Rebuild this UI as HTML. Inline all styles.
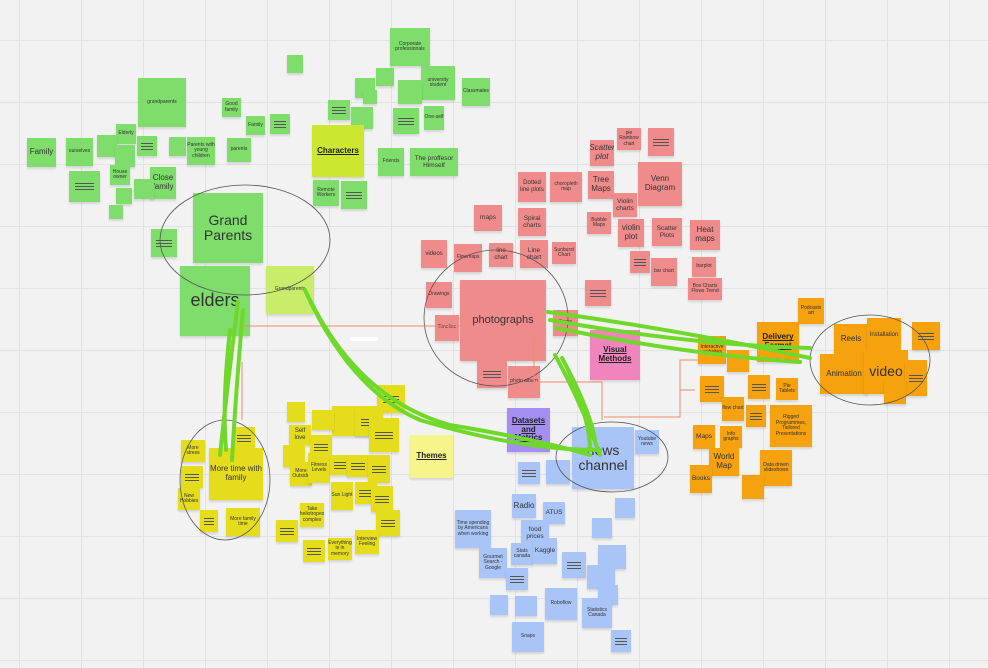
<!DOCTYPE html>
<html><head><meta charset="utf-8"><style>
body{margin:0;width:988px;height:668px;overflow:hidden;background:#f2f2f2;font-family:"Liberation Sans",sans-serif;position:relative;
background-image:linear-gradient(#e2e2e2 1px,transparent 1px),linear-gradient(90deg,#e2e2e2 1px,transparent 1px);background-size:62px 62px;background-position:19px 40px}
.s{position:absolute;display:flex;align-items:center;justify-content:center;text-align:center;font-size:5px;color:#333;box-shadow:0 2px 2px rgba(0,0,0,.12);line-height:1.1;overflow:hidden}
.g{background:#7edd6b}.r{background:#f08b8b}.y{background:#e5dd1c}.b{background:#a9c4f7}.o{background:#f6a10e}
.l::after{content:"";display:block;width:60%;height:1px;background:#555;box-shadow:0 -3px 0 #555,0 3px 0 #555}
.m{font-size:8px}.big{font-size:14px}.h{font-weight:bold;text-decoration:underline;font-size:8px;color:#222}
svg{position:absolute;left:0;top:0}
</style></head><body>
<div class="s g" style="left:390px;top:28px;width:40px;height:38px">Corporate professionals</div>
<div class="s g" style="left:287px;top:55px;width:16px;height:18px"></div>
<div class="s g" style="left:376px;top:68px;width:18px;height:18px"></div>
<div class="s g" style="left:355px;top:78px;width:20px;height:20px"></div>
<div class="s g" style="left:363px;top:90px;width:14px;height:14px"></div>
<div class="s g" style="left:421px;top:66px;width:34px;height:34px">university student</div>
<div class="s g" style="left:398px;top:80px;width:24px;height:24px"></div>
<div class="s g" style="left:462px;top:78px;width:28px;height:28px">Classmates</div>
<div class="s g l" style="left:328px;top:100px;width:22px;height:20px"></div>
<div class="s g" style="left:325px;top:126px;width:22px;height:22px"></div>
<div class="s g" style="left:351px;top:107px;width:22px;height:22px"></div>
<div class="s g l" style="left:393px;top:108px;width:26px;height:26px"></div>
<div class="s g" style="left:424px;top:106px;width:20px;height:24px">One-self</div>
<div class="s g l" style="left:270px;top:114px;width:20px;height:20px"></div>
<div class="s g" style="left:246px;top:116px;width:19px;height:19px">Family</div>
<div class="s g" style="left:222px;top:98px;width:19px;height:19px">Good family</div>
<div class="s g" style="left:138px;top:78px;width:48px;height:49px">grandparents</div>
<div class="s g" style="left:116px;top:124px;width:20px;height:20px">Elderly</div>
<div class="s g l" style="left:137px;top:136px;width:20px;height:20px"></div>
<div class="s g" style="left:169px;top:137px;width:17px;height:19px"></div>
<div class="s g" style="left:187px;top:137px;width:28px;height:28px">Parents with young children</div>
<div class="s g" style="left:227px;top:138px;width:24px;height:24px">parents</div>
<div class="s g m" style="left:27px;top:138px;width:29px;height:29px">Family</div>
<div class="s g" style="left:66px;top:138px;width:27px;height:28px">ourselves</div>
<div class="s g" style="left:97px;top:135px;width:20px;height:22px"></div>
<div class="s g" style="left:115px;top:145px;width:20px;height:22px"></div>
<div class="s g" style="left:110px;top:165px;width:20px;height:20px">House owner</div>
<div class="s g m" style="left:150px;top:167px;width:26px;height:32px">Close family</div>
<div class="s g" style="left:134px;top:179px;width:20px;height:20px"></div>
<div class="s g l" style="left:69px;top:171px;width:31px;height:31px"></div>
<div class="s g" style="left:116px;top:188px;width:16px;height:16px"></div>
<div class="s g" style="left:109px;top:205px;width:14px;height:14px"></div>
<div class="s g l" style="left:151px;top:229px;width:26px;height:28px"></div>
<div class="s h" style="left:312px;top:125px;width:52px;height:52px;background:#cde72e">Characters</div>
<div class="s g" style="left:313px;top:180px;width:26px;height:26px">Remote Workers</div>
<div class="s g l" style="left:341px;top:181px;width:26px;height:28px"></div>
<div class="s g" style="left:378px;top:148px;width:26px;height:28px">Friends</div>
<div class="s g" style="left:410px;top:148px;width:48px;height:28px;font-size:6.5px">The proffesor Himself</div>
<div class="s g big" style="left:193px;top:193px;width:70px;height:70px">Grand Parents</div>
<div class="s g" style="left:180px;top:266px;width:70px;height:70px;font-size:18px">elders</div>
<div class="s" style="left:266px;top:266px;width:48px;height:48px;background:#c9ec6a">Grandparents</div>
<div class="s r" style="left:617px;top:128px;width:24px;height:22px">pie Rainbow chart</div>
<div class="s r l" style="left:648px;top:128px;width:26px;height:28px"></div>
<div class="s r m" style="left:590px;top:140px;width:24px;height:26px;font-style:italic">Scatter plot</div>
<div class="s r m" style="left:638px;top:162px;width:44px;height:44px">Venn Diagram</div>
<div class="s r m" style="left:588px;top:171px;width:26px;height:28px">Tree Maps</div>
<div class="s r" style="left:518px;top:172px;width:28px;height:30px;font-size:6px">Dotted line plots</div>
<div class="s r" style="left:550px;top:172px;width:32px;height:30px">choropleth map</div>
<div class="s r" style="left:613px;top:193px;width:24px;height:24px;font-size:6.5px">Violin charts</div>
<div class="s r" style="left:474px;top:205px;width:28px;height:26px;font-size:6.5px">maps</div>
<div class="s r" style="left:518px;top:208px;width:28px;height:28px;font-size:6.5px">Spiral charts</div>
<div class="s r" style="left:587px;top:212px;width:24px;height:22px">Bubble Maps</div>
<div class="s r m" style="left:618px;top:219px;width:26px;height:28px">violin plot</div>
<div class="s r" style="left:652px;top:218px;width:30px;height:28px;font-size:6.5px">Scatter Plots</div>
<div class="s r m" style="left:690px;top:220px;width:30px;height:30px">Heat maps</div>
<div class="s r" style="left:421px;top:240px;width:26px;height:28px;font-size:6px">videos</div>
<div class="s r" style="left:454px;top:244px;width:28px;height:28px">Flowmaps</div>
<div class="s r" style="left:489px;top:243px;width:24px;height:24px;font-size:6px">line chart</div>
<div class="s r" style="left:520px;top:240px;width:28px;height:28px;font-size:6.5px">Line chart</div>
<div class="s r" style="left:552px;top:242px;width:24px;height:22px">Sunburst Chart</div>
<div class="s r l" style="left:630px;top:251px;width:20px;height:22px"></div>
<div class="s r" style="left:651px;top:258px;width:26px;height:28px">bar chart</div>
<div class="s r" style="left:692px;top:257px;width:24px;height:20px">barplot</div>
<div class="s r" style="left:688px;top:278px;width:34px;height:22px">Box Charts Flows Trend</div>
<div class="s r" style="left:426px;top:282px;width:26px;height:26px">Drawings</div>
<div class="s r l" style="left:585px;top:280px;width:26px;height:26px"></div>
<div class="s r" style="left:460px;top:280px;width:86px;height:81px;font-size:11px">photographs</div>
<div class="s r" style="left:435px;top:315px;width:24px;height:26px">Timeline</div>
<div class="s r" style="left:553px;top:310px;width:25px;height:26px">Eeres</div>
<div class="s r l" style="left:477px;top:360px;width:30px;height:28px"></div>
<div class="s r" style="left:508px;top:366px;width:32px;height:32px">photo album</div>
<div class="s h" style="left:590px;top:330px;width:50px;height:50px;background:#f084bd">Visual Methods</div>
<div class="s h o" style="left:757px;top:322px;width:42px;height:40px">Delivery Format</div>
<div class="s o" style="left:798px;top:298px;width:26px;height:26px">Podcasts art</div>
<div class="s o m" style="left:834px;top:324px;width:34px;height:30px">Reels</div>
<div class="s o" style="left:867px;top:318px;width:34px;height:34px;font-size:6px">Installation</div>
<div class="s o l" style="left:912px;top:322px;width:28px;height:28px"></div>
<div class="s o m" style="left:820px;top:354px;width:48px;height:40px">Animation</div>
<div class="s o big" style="left:864px;top:350px;width:44px;height:44px">video</div>
<div class="s o l" style="left:905px;top:360px;width:22px;height:36px"></div>
<div class="s o" style="left:884px;top:380px;width:22px;height:24px"></div>
<div class="s o" style="left:698px;top:336px;width:28px;height:28px">Interactive websites</div>
<div class="s o" style="left:727px;top:350px;width:22px;height:22px"></div>
<div class="s o l" style="left:700px;top:376px;width:24px;height:26px"></div>
<div class="s o l" style="left:748px;top:375px;width:22px;height:24px"></div>
<div class="s o" style="left:776px;top:378px;width:22px;height:22px">Pie Tablets</div>
<div class="s o" style="left:722px;top:397px;width:22px;height:24px">flow chart</div>
<div class="s o l" style="left:746px;top:405px;width:20px;height:22px"></div>
<div class="s o" style="left:770px;top:405px;width:42px;height:42px">Rigged Programmes, Tailored Presentations</div>
<div class="s o m" style="left:693px;top:425px;width:22px;height:24px;font-size:6.5px">Maps</div>
<div class="s o" style="left:720px;top:426px;width:22px;height:22px">Info graphs</div>
<div class="s o m" style="left:709px;top:448px;width:30px;height:28px">World Map</div>
<div class="s o" style="left:690px;top:465px;width:22px;height:28px;font-size:6.5px">Books</div>
<div class="s o" style="left:760px;top:450px;width:32px;height:36px">Data driven slideshows</div>
<div class="s o" style="left:742px;top:475px;width:22px;height:24px"></div>
<div class="s y" style="left:287px;top:402px;width:18px;height:20px"></div>
<div class="s y l" style="left:377px;top:385px;width:28px;height:28px"></div>
<div class="s y" style="left:332px;top:406px;width:46px;height:30px"></div>
<div class="s y l" style="left:355px;top:408px;width:28px;height:28px"></div>
<div class="s y l" style="left:369px;top:418px;width:30px;height:34px"></div>
<div class="s y" style="left:312px;top:410px;width:22px;height:20px"></div>
<div class="s y" style="left:289px;top:425px;width:22px;height:20px;font-size:6px">Self love</div>
<div class="s y l" style="left:310px;top:435px;width:22px;height:24px"></div>
<div class="s y" style="left:283px;top:445px;width:22px;height:22px"></div>
<div class="s y" style="left:290px;top:462px;width:22px;height:24px">More Outside</div>
<div class="s y" style="left:308px;top:453px;width:22px;height:30px">Fitness Levels</div>
<div class="s y l" style="left:330px;top:455px;width:20px;height:20px"></div>
<div class="s y l" style="left:347px;top:455px;width:22px;height:22px"></div>
<div class="s y l" style="left:368px;top:455px;width:22px;height:28px"></div>
<div class="s y" style="left:331px;top:482px;width:22px;height:28px">Sun Light</div>
<div class="s y l" style="left:355px;top:482px;width:22px;height:22px"></div>
<div class="s y l" style="left:371px;top:486px;width:22px;height:26px"></div>
<div class="s y l" style="left:376px;top:510px;width:24px;height:26px"></div>
<div class="s y" style="left:355px;top:530px;width:24px;height:24px">Interview Feeling</div>
<div class="s y" style="left:300px;top:503px;width:24px;height:24px">Take heliotropes complex</div>
<div class="s y l" style="left:276px;top:520px;width:22px;height:22px"></div>
<div class="s y" style="left:328px;top:538px;width:24px;height:22px">Everything is in memory</div>
<div class="s y l" style="left:303px;top:540px;width:22px;height:22px"></div>
<div class="s y l" style="left:233px;top:427px;width:22px;height:22px"></div>
<div class="s y" style="left:181px;top:440px;width:24px;height:22px">More stress</div>
<div class="s y m" style="left:209px;top:448px;width:54px;height:52px">More time with family</div>
<div class="s y l" style="left:181px;top:466px;width:22px;height:22px"></div>
<div class="s y" style="left:178px;top:488px;width:22px;height:22px">New Hobbies</div>
<div class="s y l" style="left:200px;top:510px;width:18px;height:22px"></div>
<div class="s y" style="left:226px;top:508px;width:34px;height:28px">More family time</div>
<div class="s h" style="left:410px;top:435px;width:43px;height:43px;background:#f5f58c">Themes</div>
<div class="s h" style="left:507px;top:408px;width:43px;height:44px;background:#a48ef2">Datasets and Metrics</div>
<div class="s b" style="left:572px;top:427px;width:62px;height:62px;font-size:14px">news channel</div>
<div class="s b" style="left:635px;top:430px;width:24px;height:24px">Youtube news</div>
<div class="s b l" style="left:518px;top:462px;width:22px;height:22px"></div>
<div class="s b" style="left:546px;top:460px;width:24px;height:24px"></div>
<div class="s b m" style="left:512px;top:494px;width:24px;height:24px">Radio</div>
<div class="s b" style="left:543px;top:502px;width:22px;height:22px;font-size:6.5px">ATUS</div>
<div class="s b" style="left:521px;top:520px;width:28px;height:26px;font-size:6.5px">food prices</div>
<div class="s b" style="left:455px;top:510px;width:36px;height:38px">Time spending by Americans when working</div>
<div class="s b" style="left:592px;top:518px;width:20px;height:20px"></div>
<div class="s b" style="left:615px;top:498px;width:20px;height:20px"></div>
<div class="s b" style="left:479px;top:548px;width:28px;height:30px">Gourmet Search - Google</div>
<div class="s b" style="left:511px;top:543px;width:22px;height:22px">Stats canada</div>
<div class="s b" style="left:533px;top:538px;width:24px;height:26px;font-size:6.5px">Kaggle</div>
<div class="s b l" style="left:562px;top:552px;width:24px;height:26px"></div>
<div class="s b l" style="left:506px;top:568px;width:22px;height:22px"></div>
<div class="s b" style="left:598px;top:545px;width:28px;height:24px"></div>
<div class="s b" style="left:587px;top:565px;width:28px;height:24px"></div>
<div class="s b" style="left:490px;top:595px;width:18px;height:20px"></div>
<div class="s b" style="left:515px;top:596px;width:22px;height:20px"></div>
<div class="s b" style="left:545px;top:588px;width:32px;height:32px">Roboflow</div>
<div class="s b" style="left:598px;top:585px;width:20px;height:20px"></div>
<div class="s b" style="left:582px;top:598px;width:30px;height:30px">Statistics Canada</div>
<div class="s b l" style="left:611px;top:630px;width:20px;height:22px"></div>
<div class="s b" style="left:512px;top:622px;width:32px;height:30px">Snaps</div>
<svg width="988" height="668" viewBox="0 0 988 668">
<g fill="none" stroke="#555" stroke-width="0.8">
<ellipse cx="245" cy="240" rx="85" ry="55"/>
<ellipse cx="225" cy="480" rx="45" ry="60"/>
<ellipse cx="496" cy="318" rx="72" ry="68"/>
<ellipse cx="612" cy="457" rx="56" ry="35"/>
<ellipse cx="870" cy="360" rx="60" ry="45"/>
</g>
<g fill="none" stroke="#f08a6a" stroke-width="1">
<path d="M240 326 H460"/><path d="M242 362 V420"/><path d="M534 340 V382 H602 V420"/><path d="M604 417 H680 V360 H700"/><path d="M680 390 H695"/>
</g>
<rect x="350" y="337" width="28" height="4" fill="#fff"/>
<g fill="none" stroke="#6fd82a" stroke-width="4" stroke-linecap="round">
<path d="M238 302 Q228 380 220 455"/><path d="M243 310 Q236 390 232 460"/><path d="M230 330 Q222 400 226 450"/>
<path d="M305 290 Q350 390 420 420 Q520 450 600 450"/><path d="M310 300 Q360 400 450 425 Q540 440 590 455"/>
<path d="M548 312 Q680 330 810 358"/><path d="M550 320 Q690 345 810 348"/><path d="M556 328 Q690 355 800 362"/>
<path d="M555 355 Q580 400 600 455"/><path d="M562 358 Q590 410 595 440"/><path d="M568 370 Q590 420 590 450"/>
</g>
</svg>
</body></html>
